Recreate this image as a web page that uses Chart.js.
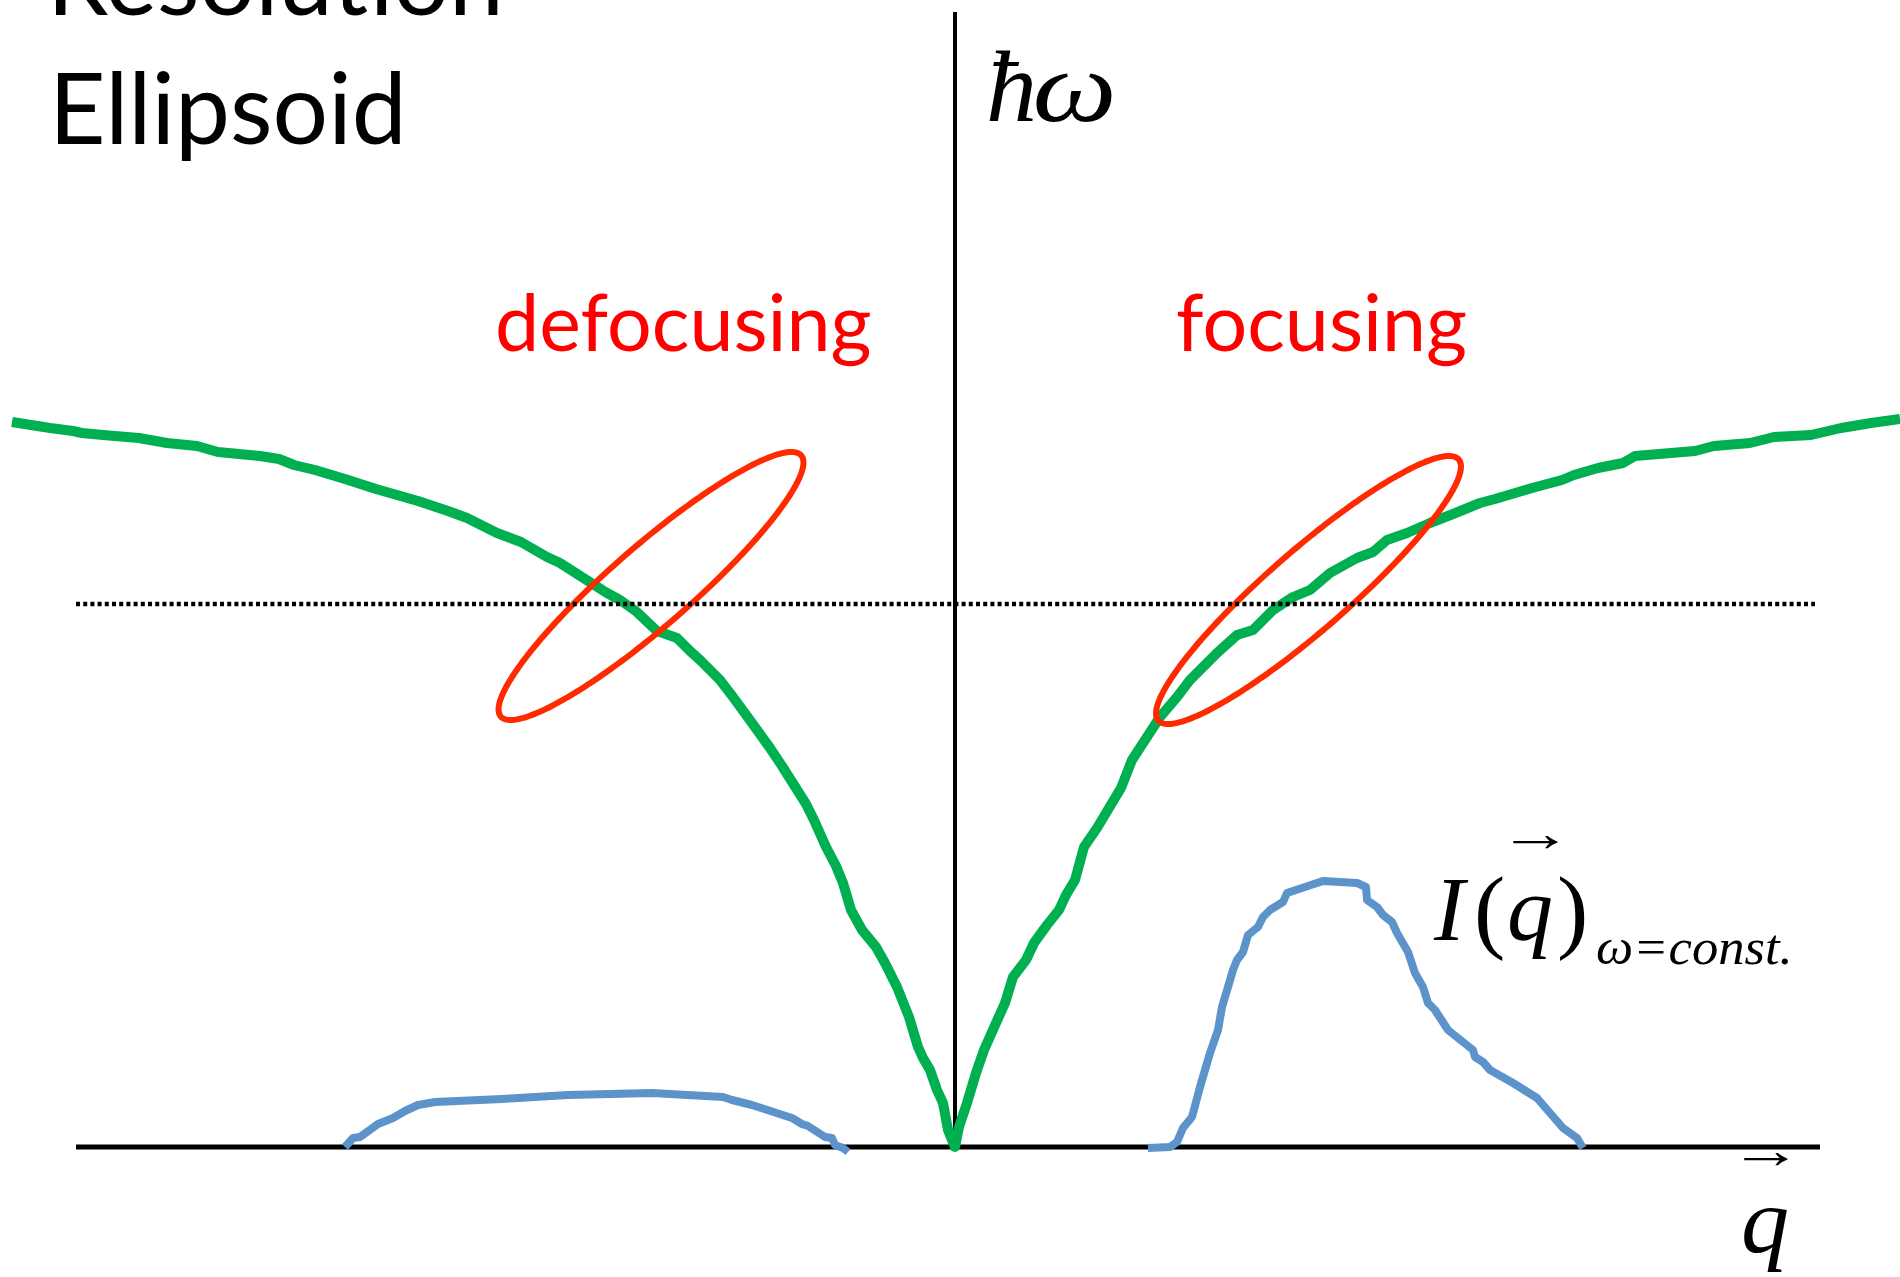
<!DOCTYPE html>
<html>
<head>
<meta charset="utf-8">
<title>Resolution Ellipsoid</title>
<script src="https://cdn.jsdelivr.net/npm/chart.js@4/dist/chart.umd.min.js"></script>
<style>
  html, body { margin: 0; padding: 0; background: #ffffff; overflow: hidden; }
  canvas { display: block; }
</style>
</head>
<body>
<canvas id="c" width="1900" height="1277"></canvas>
<script>
// Dispersion branch ħω(q), running through the zone centre at q = 0
const dispersionQ = [
  -9.43, -9.05, -8.82, -8.73, -8.52, -8.16, -7.88, -7.58, -7.37, -6.95,
  -6.76, -6.61, -6.40, -6.10, -5.79, -5.37, -5.07, -4.88, -4.58, -4.34,
  -4.08, -3.95, -3.70, -3.48, -3.35, -3.18, -2.98, -2.78, -2.65, -2.55,
  -2.35, -2.22, -2.03, -1.85, -1.73, -1.61, -1.49, -1.41, -1.29, -1.19,
  -1.12, -1.04, -0.93, -0.79, -0.70, -0.58, -0.46, -0.37, -0.32, -0.25,
  -0.18, -0.12, -0.07, 0.00,
  0.04, 0.12, 0.21, 0.29, 0.41, 0.50, 0.58, 0.71, 0.79, 0.92,
  1.04, 1.11, 1.20, 1.29, 1.42, 1.54, 1.66, 1.77, 1.92, 2.05,
  2.22, 2.35, 2.62, 2.82, 2.98, 3.18, 3.38, 3.55, 3.75, 4.02,
  4.18, 4.32, 4.52, 4.75, 4.98, 5.25, 5.40, 5.77, 6.07, 6.19,
  6.43, 6.68, 6.80, 7.40, 7.59, 7.95, 8.19, 8.56, 8.86, 9.16, 9.45
];
const dispersionE = [
  7.25, 7.19, 7.16, 7.14, 7.12, 7.09, 7.04, 7.01, 6.95, 6.91,
  6.88, 6.82, 6.77, 6.68, 6.58, 6.46, 6.36, 6.29, 6.14, 6.05,
  5.90, 5.84, 5.68, 5.54, 5.47, 5.35, 5.16, 5.09, 4.96, 4.87,
  4.67, 4.50, 4.24, 3.99, 3.81, 3.62, 3.43, 3.27, 3.00, 2.81,
  2.64, 2.37, 2.17, 2.00, 1.84, 1.60, 1.30, 1.00, 0.89, 0.77,
  0.57, 0.44, 0.17, 0.00,
  0.20, 0.44, 0.74, 0.97, 1.24, 1.44, 1.70, 1.87, 2.04, 2.22,
  2.37, 2.52, 2.67, 3.00, 3.19, 3.39, 3.59, 3.87, 4.10, 4.30,
  4.50, 4.67, 4.94, 5.12, 5.17, 5.37, 5.50, 5.57, 5.74, 5.89,
  5.95, 6.07, 6.14, 6.24, 6.33, 6.44, 6.48, 6.59, 6.67, 6.72,
  6.79, 6.84, 6.91, 6.96, 7.01, 7.04, 7.10, 7.12, 7.19, 7.24, 7.28
];

// Constant-energy scan I(q): broad, weak peak on the defocusing side
const scanLeftQ = [
  -6.10, -6.02, -5.95, -5.77, -5.62, -5.50, -5.37, -5.20, -4.53, -3.87,
  -3.03, -2.32, -2.23, -2.03, -1.63, -1.53, -1.47, -1.30, -1.23, -1.20,
  -1.12, -1.07
];
const scanLeftI = [
  0.00, 0.09, 0.10, 0.23, 0.29, 0.36, 0.42, 0.45, 0.48, 0.52,
  0.54, 0.50, 0.47, 0.42, 0.29, 0.23, 0.21, 0.10, 0.09, 0.02,
  -0.01, -0.05
];

// Constant-energy scan I(q): sharp, strong peak on the focusing side
const scanRightQ = [
  1.93, 2.15, 2.22, 2.28, 2.37, 2.45, 2.55, 2.63, 2.67, 2.73,
  2.78, 2.82, 2.88, 2.93, 3.03, 3.08, 3.15, 3.28, 3.32, 3.68,
  4.02, 4.11, 4.12, 4.22, 4.28, 4.37, 4.42, 4.53, 4.60, 4.68,
  4.73, 4.80, 4.93, 5.08, 5.18, 5.20, 5.28, 5.35, 5.58, 5.82,
  5.95, 6.08, 6.22, 6.28
];
const scanRightI = [
  -0.01, 0.00, 0.05, 0.19, 0.30, 0.60, 0.94, 1.17, 1.40, 1.60,
  1.77, 1.87, 1.95, 2.12, 2.20, 2.30, 2.37, 2.45, 2.54, 2.66,
  2.64, 2.60, 2.47, 2.40, 2.32, 2.25, 2.14, 1.95, 1.74, 1.60,
  1.44, 1.37, 1.17, 1.05, 0.97, 0.90, 0.85, 0.77, 0.64, 0.49,
  0.34, 0.19, 0.09, -0.01
];

// Resolution ellipses: centre (q, ħω), semi-axes and tilt of the long axis
const ellipseCenterQ = [-3.04, 3.535];
const ellipseCenterE = [5.61, 5.57];
const ellipseMajor   = [1.99, 1.99];
const ellipseMinor   = [0.40, 0.40];
const ellipseTiltDeg = [41, 41];

// Axes and the constant-energy cut
const qAxisQ = [-8.79, 8.65];
const energyAxisE = [0, 11.35];
const cutEnergy = 5.43;
const cutQ = [-8.79, 8.60];

const pts = (xs, ys) => xs.map((v, i) => ({ x: v, y: ys[i] }));

const GREEN = '#00b050';
const BLUE = '#5c93cb';
const RED = '#ff2a00';

function drawEllipses(chart) {
  const { ctx, scales: { x, y } } = chart;
  ctx.save();
  ctx.strokeStyle = RED;
  ctx.lineWidth = 6;
  ctx.lineJoin = 'round';
  for (let i = 0; i < ellipseCenterQ.length; i++) {
    const cq = ellipseCenterQ[i], ce = ellipseCenterE[i];
    const t = ellipseTiltDeg[i] * Math.PI / 180;
    const cx = x.getPixelForValue(cq), cy = y.getPixelForValue(ce);
    const ax = x.getPixelForValue(cq + ellipseMajor[i] * Math.cos(t)) - cx;
    const ay = y.getPixelForValue(ce + ellipseMajor[i] * Math.sin(t)) - cy;
    const bx = x.getPixelForValue(cq - ellipseMinor[i] * Math.sin(t)) - cx;
    const by = y.getPixelForValue(ce + ellipseMinor[i] * Math.cos(t)) - cy;
    ctx.beginPath();
    const n = 240;
    for (let k = 0; k <= n; k++) {
      const s = k / n * Math.PI * 2;
      const px = cx + ax * Math.cos(s) + bx * Math.sin(s);
      const py = cy + ay * Math.cos(s) + by * Math.sin(s);
      if (k === 0) ctx.moveTo(px, py); else ctx.lineTo(px, py);
    }
    ctx.closePath();
    ctx.stroke();
  }
  ctx.restore();
}

// Text placed by its ink box: left edge and baseline, optionally stretched to a width
function inkText(ctx, str, font, left, baseline, color, width) {
  ctx.font = font;
  ctx.textAlign = 'left';
  ctx.textBaseline = 'alphabetic';
  const m = ctx.measureText(str);
  const inkW = m.actualBoundingBoxLeft + m.actualBoundingBoxRight;
  const sx = width ? width / inkW : 1;
  ctx.save();
  ctx.fillStyle = color;
  ctx.translate(left, baseline);
  ctx.scale(sx, 1);
  ctx.fillText(str, m.actualBoundingBoxLeft, 0);
  ctx.restore();
}

// Vector arrow accent, centred vertically on cy
function arrowAccent(ctx, left, cy, width) {
  const font = '52px "Liberation Serif", "DejaVu Serif", serif';
  ctx.font = font;
  const m = ctx.measureText('\u2192');
  const baseline = cy + (m.actualBoundingBoxAscent - m.actualBoundingBoxDescent) / 2;
  inkText(ctx, '\u2192', font, left, baseline, '#000000', width);
}

function fitSize(ctx, str, family, width) {
  ctx.font = '100px ' + family;
  const m = ctx.measureText(str);
  return 100 * width / (m.actualBoundingBoxLeft + m.actualBoundingBoxRight);
}

const labelsPlugin = {
  id: 'labels',
  beforeDatasetDraw(chart, args) {
    // ellipses sit beneath the dotted constant-energy cut
    if (chart.data.datasets[args.index].id === 'cut') drawEllipses(chart);
  },
  afterDraw(chart) {
    const ctx = chart.ctx;
    const sans = 'Lato, "Open Sans", sans-serif';
    const it = s => 'italic ' + s + 'px "Liberation Serif", "DejaVu Serif", serif';
    const rm = s => s + 'px "Liberation Serif", "DejaVu Serif", serif';

    // Title
    const tSize = fitSize(ctx, 'Ellipsoid', sans, 342);
    inkText(ctx, 'Resolution', tSize + 'px ' + sans, 55, 15, '#000000');
    inkText(ctx, 'Ellipsoid', tSize + 'px ' + sans, 57, 144, '#000000');

    // Region labels
    const rSize = fitSize(ctx, 'defocusing', sans, 372);
    inkText(ctx, 'defocusing', rSize + 'px ' + sans, 498, 351, '#ff0000');
    inkText(ctx, 'focusing', rSize + 'px ' + sans, 1177, 351, '#ff0000');

    // Energy axis label ħω
    inkText(ctx, '\u0127', it(102), 989, 121, '#000000', 44);
    inkText(ctx, '\u03c9', it(102), 1036, 121, '#000000', 76);

    // Intensity label I(q) with subscript ω=const.
    inkText(ctx, 'I', it(92), 1433, 940, '#000000');
    inkText(ctx, '(', rm(94), 1478, 941, '#000000');
    inkText(ctx, 'q', it(92), 1510, 940, '#000000');
    inkText(ctx, ')', rm(94), 1560, 941, '#000000');
    arrowAccent(ctx, 1512, 842, 46);
    inkText(ctx, '\u03c9=const.', it(50), 1597, 964, '#000000', 191);

    // Momentum axis label q with vector arrow
    arrowAccent(ctx, 1743, 1159, 45);
    inkText(ctx, 'q', it(94), 1744, 1252, '#000000', 43);
  }
};

new Chart(document.getElementById('c'), {
  type: 'line',
  data: {
    datasets: [
      {
        id: 'cut',
        data: pts(cutQ, [cutEnergy, cutEnergy]),
        borderColor: '#000000', borderWidth: 4.5, borderDash: [4, 3.2],
        pointRadius: 0, fill: false, order: 0
      },
      {
        data: pts(dispersionQ, dispersionE),
        borderColor: GREEN, borderWidth: 10, borderJoinStyle: 'round',
        pointRadius: 0, fill: false, order: 1
      },
      {
        data: pts(scanRightQ, scanRightI),
        borderColor: BLUE, borderWidth: 8, borderJoinStyle: 'round',
        pointRadius: 0, fill: false, order: 2
      },
      {
        data: pts(scanLeftQ, scanLeftI),
        borderColor: BLUE, borderWidth: 8, borderJoinStyle: 'round',
        pointRadius: 0, fill: false, order: 2
      },
      {
        data: pts(qAxisQ, [0, 0]),
        borderColor: '#000000', borderWidth: 5,
        pointRadius: 0, fill: false, order: 3
      },
      {
        data: pts([0, 0], energyAxisE),
        borderColor: '#000000', borderWidth: 4,
        pointRadius: 0, fill: false, order: 3
      }
    ]
  },
  options: {
    responsive: false,
    animation: false,
    devicePixelRatio: 1,
    events: [],
    layout: { padding: 0 },
    elements: { line: { tension: 0 }, point: { radius: 0 } },
    plugins: {
      legend: { display: false },
      tooltip: { enabled: false },
      title: { display: false }
    },
    scales: {
      x: { type: 'linear', min: -9.55, max: 9.45, display: false },
      y: { type: 'linear', min: -1.30, max: 11.47, display: false }
    }
  },
  plugins: [labelsPlugin]
});
</script>
</body>
</html>
